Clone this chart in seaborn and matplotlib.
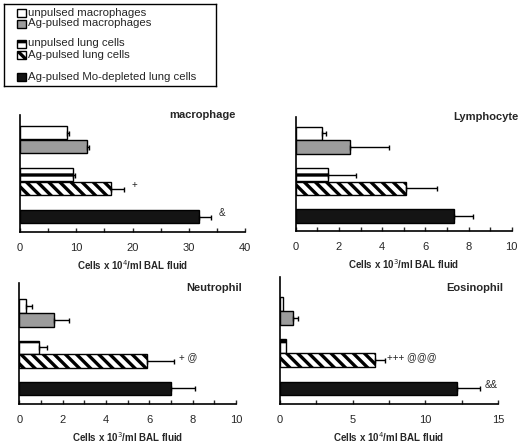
import numpy as np
import pandas as pd
import seaborn as sns
import matplotlib.pyplot as plt
from matplotlib.patches import Rectangle
from matplotlib.ticker import MultipleLocator

# groups, in the order they appear in every panel
groups = ["unpulsed macrophages", "Ag-pulsed macrophages",
          "unpulsed lung cells", "Ag-pulsed lung cells",
          "Ag-pulsed Mo-depleted lung cells"]

mac_mean = [8.3, 11.9, 9.4, 16.1, 31.9]
mac_sem = [0.4, 0.4, 0.3, 2.3, 2.1]
lym_mean = [1.2, 2.5, 1.5, 5.1, 7.35]
lym_sem = [0.2, 1.8, 1.3, 1.45, 0.85]
neu_mean = [0.3, 1.6, 0.92, 5.9, 7.0]
neu_sem = [0.3, 0.7, 0.34, 1.25, 1.1]
eos_mean = [0.23, 0.87, 0.41, 6.57, 12.18]
eos_sem = [0.0, 0.39, 0.0, 0.63, 1.56]

fills = ["white", "#9c9c9c", "white", "white", "#141414"]
hatches = ["", "", "-", "\\\\\\", ""]

sns.set_style("ticks")
plt.rcParams["font.family"] = ["Liberation Sans", "DejaVu Sans"]
plt.rcParams["hatch.linewidth"] = 2.4

# spacer categories leave the gaps between the groups of bars
order = [groups[0], groups[1], "", groups[2], groups[3], " ", groups[4]]

fig = plt.figure(figsize=(5.2, 4.43), dpi=100)


def panel(rect, mean, sem, title, tpos, xmax, major, minor, power, ylim, notes):
	ax = fig.add_axes(rect)
	df = pd.DataFrame({"group": groups, "value": mean})
	sns.barplot(data=df, x="value", y="group", order=order, hue="group",
				hue_order=groups, palette=fills, legend=False, errorbar=None,
				width=0.98, edgecolor="black", linewidth=1.0, ax=ax)
	ys = []
	for cont, h in zip(ax.containers, hatches):
		for bar in cont:
			bar.set_hatch(h)
			ys.append(bar.get_y() + bar.get_height() / 2)
	ys = np.array(ys)
	m = np.array(mean)
	e = np.array(sem)
	keep = e > 0
	ax.errorbar(m[keep], ys[keep], xerr=[np.zeros(keep.sum()), e[keep]],
				fmt="none", ecolor="black", elinewidth=1.0, capsize=1.8,
				capthick=1.0)
	for txt, xv, row in notes:
		ax.text(xv, ys[row] - 0.25, txt, fontsize=7, va="center", ha="left")
	ax.set_xlim(0, xmax)
	ax.set_ylim(*ylim)
	ax.xaxis.set_major_locator(MultipleLocator(major))
	ax.xaxis.set_minor_locator(MultipleLocator(minor))
	ax.tick_params(axis="x", which="both", direction="in", length=3,
				   width=1.0, labelsize=8, pad=8)
	ax.tick_params(axis="y", left=False, labelleft=False)
	ax.set_ylabel("")
	ax.set_xlabel("Cells x 10$^{%d}$/ml BAL fluid" % power, fontsize=7,
				  fontweight="bold", labelpad=4)
	sns.despine(ax=ax)
	for s in ["left", "bottom"]:
		ax.spines[s].set_linewidth(1.2)
		ax.spines[s].set_color("black")
	ax.text(tpos[0], tpos[1], title, transform=ax.transAxes, ha="right",
			va="center", fontsize=8, fontweight="bold", clip_on=False)
	return ax


panel([0.0385, 0.4763, 0.4327, 0.264], mac_mean, mac_sem, "macrophage",
	  (0.96, 1.0), 40, 10, 5, 4, (7.1, -1.25), [("+", 19.8, 3), ("&", 35.3, 4)])
panel([0.5687, 0.4786, 0.4154, 0.2573], lym_mean, lym_sem, "Lymphocyte",
	  (1.03, 1.0), 10, 2, 1, 3, (7.1, -1.2), [])
panel([0.0371, 0.088, 0.4167, 0.273], neu_mean, neu_sem, "Neutrophil",
	  (1.03, 0.96), 10, 2, 1, 3, (7.13, -1.67), [("+ @", 7.35, 3)])
panel([0.5385, 0.088, 0.419, 0.287], eos_mean, eos_sem, "Eosinophil",
	  (1.023, 0.913), 15, 5, 2.5, 4, (7.1, -1.9),
	  [("+++ @@@", 7.35, 3), ("&&", 14.1, 4)])

# legend box drawn by hand, in pixel units of its own axes
lax = fig.add_axes([4 / 520, 1 - 86 / 443, 212 / 520, 82 / 443])
lax.set_xlim(0, 212)
lax.set_ylim(82, 0)
lax.set_xticks([])
lax.set_yticks([])
for s in lax.spines.values():
	s.set_linewidth(1.0)
	s.set_color("black")
rows = [8.5, 19.5, 39.5, 50.5, 73]
for g, f, h, yc in zip(groups, fills, hatches, rows):
	lax.add_patch(Rectangle((13, yc - 4), 9, 8, facecolor=f, edgecolor="black",
							hatch=h, linewidth=1.0))
	lax.text(24, yc, g, fontsize=8.2, va="center", ha="left")

fig.savefig("out.png", dpi=100)
